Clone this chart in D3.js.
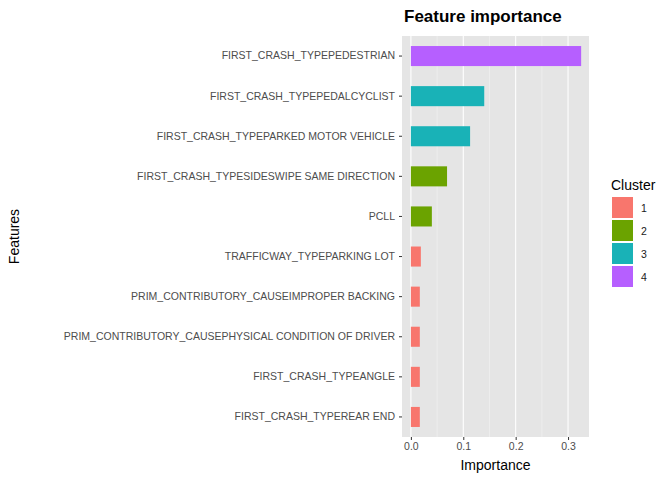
<!DOCTYPE html>
<html><head><meta charset="utf-8">
<script src="https://cdn.jsdelivr.net/npm/d3@7"></script>
<style>body{margin:0;background:#fff;font-family:"Liberation Sans",Arial,sans-serif;}</style>
</head><body><div id="chart"></div>
<script>
const features = [
  "FIRST_CRASH_TYPEPEDESTRIAN",
  "FIRST_CRASH_TYPEPEDALCYCLIST",
  "FIRST_CRASH_TYPEPARKED MOTOR VEHICLE",
  "FIRST_CRASH_TYPESIDESWIPE SAME DIRECTION",
  "PCLL",
  "TRAFFICWAY_TYPEPARKING LOT",
  "PRIM_CONTRIBUTORY_CAUSEIMPROPER BACKING",
  "PRIM_CONTRIBUTORY_CAUSEPHYSICAL CONDITION OF DRIVER",
  "FIRST_CRASH_TYPEANGLE",
  "FIRST_CRASH_TYPEREAR END"
];
const importance = [0.325, 0.140, 0.113, 0.069, 0.040, 0.019, 0.017, 0.017, 0.017, 0.017];
const cluster = [4, 3, 3, 2, 2, 1, 1, 1, 1, 1];
const clusters = [1, 2, 3, 4];
const clusterColors = ["#F8766D", "#7CAE00", "#00BFC4", "#C77CFF"];
const xTicks = [0, 0.1, 0.2, 0.3];

const W = 672, H = 480;
const panel = {left: 402, right: 589, top: 36, bottom: 437};
const svg = d3.select("#chart").append("svg").attr("width", W).attr("height", H);

const x = d3.scaleLinear().domain([-0.017, 0.340]).range([panel.left, panel.right]);
const y = d3.scaleBand().domain(features).range([panel.top, panel.bottom]).paddingInner(0.5).paddingOuter(0.25);
const color = d3.scaleOrdinal().domain(clusters).range(["#F8766D", "#6BA300", "#19B2B7", "#B65FFF"]);

svg.append("rect").attr("x", panel.left).attr("y", panel.top)
  .attr("width", panel.right - panel.left).attr("height", panel.bottom - panel.top).attr("fill", "#e5e5e5");

// minor + major grid
const minor = [0.05, 0.15, 0.25];
svg.selectAll(".minor").data(minor).enter().append("line")
  .attr("x1", d => x(d)).attr("x2", d => x(d)).attr("y1", panel.top).attr("y2", panel.bottom)
  .attr("stroke", "#f2f2f2").attr("stroke-width", 0.6);
svg.selectAll(".major").data(xTicks).enter().append("line")
  .attr("x1", d => x(d)).attr("x2", d => x(d)).attr("y1", panel.top).attr("y2", panel.bottom)
  .attr("stroke", "#fff").attr("stroke-width", 1.1);

svg.selectAll(".bar").data(features).enter().append("rect")
  .attr("x", x(0)).attr("y", d => y(d))
  .attr("width", (d, i) => x(importance[i]) - x(0)).attr("height", y.bandwidth())
  .attr("fill", (d, i) => color(cluster[i]));

// y axis
const yAxis = svg.append("g").attr("transform", `translate(${panel.left},0)`)
  .call(d3.axisLeft(y).tickSize(3).tickPadding(4));
yAxis.select(".domain").remove();
yAxis.selectAll("line").attr("stroke", "#333");
yAxis.selectAll("text").attr("fill", "#4d4d4d").style("font-size", "10.5px").style("font-family", "Liberation Sans, Arial, sans-serif");

// x axis
const xAxis = svg.append("g").attr("transform", `translate(0,${panel.bottom})`)
  .call(d3.axisBottom(x).tickValues(xTicks).tickFormat(d3.format(".1f")).tickSize(3).tickPadding(3));
xAxis.select(".domain").remove();
xAxis.selectAll("line").attr("stroke", "#333");
xAxis.selectAll("text").attr("fill", "#4d4d4d").style("font-size", "10.5px").style("font-family", "Liberation Sans, Arial, sans-serif");

svg.append("text").attr("x", (panel.left + panel.right) / 2).attr("y", 470).attr("text-anchor", "middle")
  .style("font-size", "14px").text("Importance");
svg.append("text").attr("transform", `translate(19,${(panel.top + panel.bottom) / 2}) rotate(-90)`)
  .attr("text-anchor", "middle").style("font-size", "14px").text("Features");
svg.append("text").attr("x", panel.left + 2).attr("y", 22)
  .style("font-size", "17px").style("font-weight", "bold").text("Feature importance");

// legend
const lg = svg.append("g").attr("transform", "translate(611,0)");
lg.append("text").attr("x", 0).attr("y", 190).style("font-size", "14px").text("Cluster");
clusters.forEach((c, i) => {
  lg.append("rect").attr("x", 1).attr("y", 197 + i * 23).attr("width", 21).attr("height", 21).attr("fill", color(c));
  lg.append("text").attr("x", 30).attr("y", 212 + i * 23).style("font-size", "10.5px").attr("fill", "#1a1a1a").text(c);
});
</script></body></html>
